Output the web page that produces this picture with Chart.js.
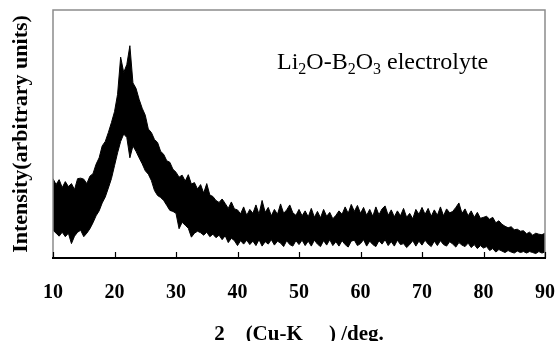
<!DOCTYPE html>
<html>
<head>
<meta charset="utf-8">
<script src="https://cdn.jsdelivr.net/npm/chart.js@4.4.1/dist/chart.umd.min.js"></script>
<style>
  html, body { margin: 0; padding: 0; background: #ffffff; }
  #xrd { display: block; }
</style>
</head>
<body>
<canvas id="xrd" width="555" height="341"></canvas>
<script>
// 2-theta grid of the scan (deg), one reading every half degree
const angleStart = 10;
const angleStep = 0.5;

// upper edge of the noisy trace, 10 .. 90 deg
const upperCounts = [
    320, 296, 316, 284, 308, 288, 300, 276, 320, 322, 318, 300, 330, 340, 378, 404, 452, 470, 506, 546,
    590, 660, 810, 748, 780, 856, 706, 684, 640, 604, 576, 520, 506, 478, 466, 430, 418, 392, 386, 358,
    346, 326, 334, 310, 336, 298, 304, 278, 296, 262, 300, 254, 248, 232, 224, 238, 220, 200, 226, 198,
    194, 178, 206, 172, 196, 180, 214, 176, 232, 184, 204, 170, 196, 176, 218, 180, 194, 214, 182, 172,
    196, 170, 190, 166, 200, 164, 188, 162, 196, 168, 184, 158, 172, 190, 176, 206, 180, 216, 188, 212,
    180, 204, 172, 196, 168, 206, 174, 198, 210, 172, 194, 166, 190, 170, 200, 164, 180, 158, 196, 176,
    204, 176, 200, 168, 194, 172, 206, 170, 198, 182, 188, 204, 222, 180, 198, 170, 190, 164, 184, 160,
    164, 168, 156, 164, 142, 150, 136, 128, 122, 126, 114, 116, 108, 110, 98, 104, 92, 100, 96, 94,
    100
];

// lower edge of the noisy trace, 10 .. 90 deg
const lowerCounts = [
    112, 100, 88, 104, 86, 100, 58, 88, 104, 112, 86, 100, 118, 142, 170, 190, 222, 246, 282, 320,
    372, 424, 470, 500, 486, 404, 452, 430, 404, 380, 352, 338, 312, 272, 252, 244, 232, 212, 192, 188,
    180, 118, 144, 132, 120, 84, 100, 108, 102, 92, 104, 86, 96, 82, 92, 74, 90, 62, 80, 70,
    50, 70, 56, 72, 54, 68, 50, 74, 48, 66, 56, 74, 52, 68, 60, 46, 70, 54, 48, 70,
    54, 72, 50, 68, 48, 72, 56, 46, 70, 52, 74, 50, 66, 48, 70, 54, 44, 68, 72, 50,
    58, 74, 48, 68, 54, 46, 70, 56, 74, 50, 66, 48, 72, 54, 58, 42, 54, 70, 48, 68,
    52, 72, 56, 46, 68, 50, 70, 54, 48, 66, 56, 44, 62, 52, 46, 60, 42, 54, 38, 50,
    40, 46, 30, 38, 24, 34, 28, 22, 30, 24, 20, 28, 22, 26, 20, 26, 22, 18, 26, 20,
    24
];

const xTicks = [10, 20, 30, 40, 50, 60, 70, 80, 90];

const serif = '"Liberation Serif", "Times New Roman", serif';

function toPoints(values) {
    return values.map(function (v, i) {
        return { x: angleStart + i * angleStep, y: v };
    });
}

// frame, inward ticks and the sample label
const framePlugin = {
    id: 'frame',
    afterDraw: function (chart) {
        const ctx = chart.ctx;
        const a = chart.chartArea;
        const xs = chart.scales.x;
        ctx.save();
        ctx.strokeStyle = '#8c8c8c';
        ctx.lineWidth = 1.5;
        ctx.beginPath();
        ctx.moveTo(a.left, a.bottom);
        ctx.lineTo(a.left, a.top);
        ctx.lineTo(a.right, a.top);
        ctx.lineTo(a.right, a.bottom);
        ctx.stroke();

        ctx.strokeStyle = '#000000';
        ctx.lineWidth = 2;
        ctx.beginPath();
        ctx.moveTo(a.left - 1, a.bottom);
        ctx.lineTo(a.right + 1, a.bottom);
        ctx.stroke();

        ctx.lineWidth = 1.2;
        ctx.beginPath();
        xTicks.forEach(function (t) {
            const px = Math.round(xs.getPixelForValue(t)) + 0.5;
            ctx.moveTo(px, a.bottom);
            ctx.lineTo(px, a.bottom - 6);
        });
        ctx.stroke();

        // Li2O-B2O3 electrolyte
        const parts = [
            ['Li', false], ['2', true], ['O-B', false], ['2', true],
            ['O', false], ['3', true], [' electrolyte', false]
        ];
        let x = 277;
        const base = 69;
        ctx.fillStyle = '#000000';
        ctx.textBaseline = 'alphabetic';
        parts.forEach(function (p) {
            ctx.font = (p[1] ? '16px ' : '24px ') + serif;
            ctx.fillText(p[0], x, p[1] ? base + 5 : base);
            x += ctx.measureText(p[0]).width;
        });
        ctx.restore();
    }
};

new Chart(document.getElementById('xrd'), {
    type: 'line',
    data: {
        datasets: [{
            label: 'upper',
            data: toPoints(upperCounts),
            borderColor: '#000000',
            backgroundColor: '#000000',
            borderWidth: 1,
            pointRadius: 0,
            tension: 0,
            fill: '+1'
        }, {
            label: 'lower',
            data: toPoints(lowerCounts),
            borderColor: '#000000',
            borderWidth: 1,
            pointRadius: 0,
            tension: 0,
            fill: false
        }]
    },
    options: {
        responsive: false,
        animation: false,
        layout: { padding: { top: 10, right: 10, left: 0, bottom: 0 } },
        plugins: { legend: { display: false }, tooltip: { enabled: false } },
        scales: {
            x: {
                type: 'linear',
                min: 10,
                max: 90,
                afterFit: function (scale) {
                    scale.height = 83;
                    scale.paddingLeft = 0;
                    scale.paddingRight = 0;
                },
                afterBuildTicks: function (scale) {
                    scale.ticks = xTicks.map(function (v) { return { value: v }; });
                },
                grid: { display: false, drawTicks: false },
                border: { display: false },
                ticks: {
                    color: '#000000',
                    padding: 23,
                    maxRotation: 0,
                    font: { family: serif, size: 20, weight: 'bold' }
                },
                title: {
                    display: true,
                    text: '2    (Cu-K     ) /deg.',
                    color: '#000000',
                    padding: { top: 0, bottom: -4 },
                    font: { family: serif, size: 21, weight: 'bold', lineHeight: 1 }
                }
            },
            y: {
                min: 0,
                max: 1000,
                afterFit: function (scale) { scale.width = 53; },
                grid: { display: false, drawTicks: false },
                border: { display: false },
                ticks: { display: false },
                title: {
                    display: true,
                    text: 'Intensity(arbitrary units)',
                    color: '#000000',
                    padding: { top: 8, bottom: 0 },
                    font: { family: serif, size: 22, weight: 'bold' }
                }
            }
        }
    },
    plugins: [framePlugin]
});
</script>
</body>
</html>
